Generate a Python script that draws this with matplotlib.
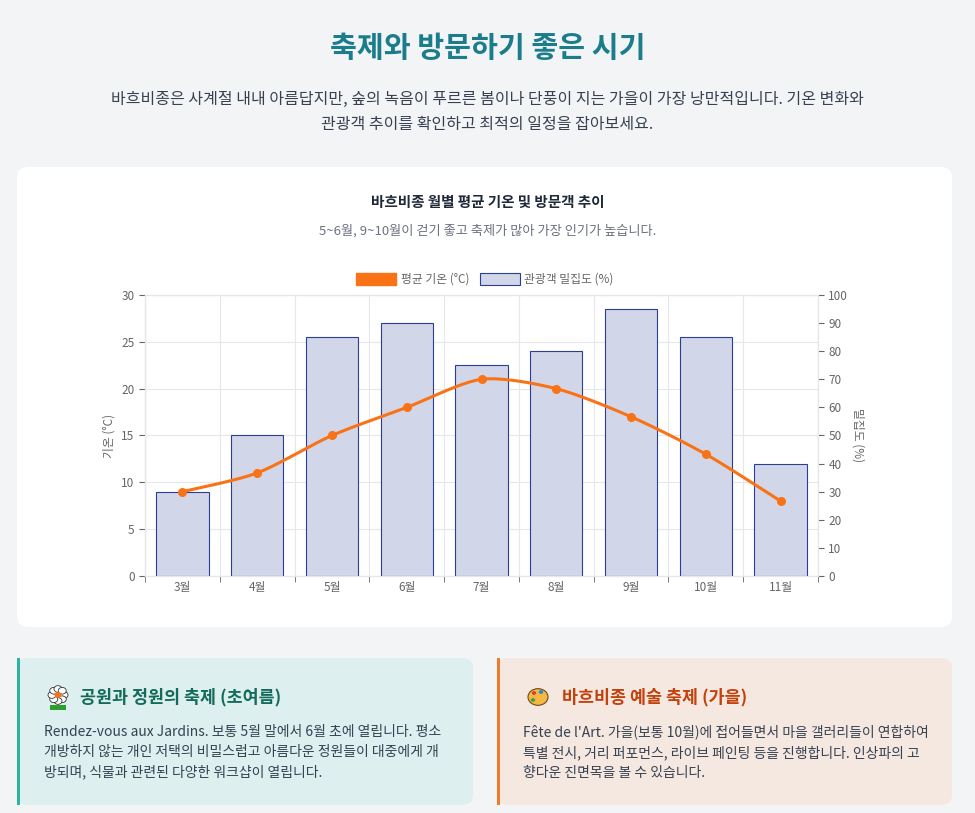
import matplotlib.pyplot as plt
import numpy as np
from matplotlib.patches import FancyBboxPatch, Rectangle

plt.rcParams['font.family'] = ['Noto Sans CJK KR', 'DejaVu Sans']

months = ["3월", "4월", "5월", "6월", "7월", "8월", "9월", "10월", "11월"]
temps = [9, 11, 15, 18, 21, 20, 17, 13, 8]
crowd = [30, 50, 85, 90, 75, 80, 95, 85, 40]

W, H = 975, 813
fig = plt.figure(figsize=(9.75, 8.13), dpi=100, facecolor='#f3f4f6')


def fx(x):
    return x / W


def fy(y):
    return 1 - y / H


def card(x0, y0, x1, y1, color, edge=None):
    p = FancyBboxPatch((fx(x0), fy(y1)), fx(x1 - x0), (y1 - y0) / H,
                       boxstyle="round,pad=0,rounding_size=0.012",
                       transform=fig.transFigure, facecolor=color,
                       edgecolor='none', zorder=-5)
    fig.patches.append(p)
    if edge:
        fig.patches.append(Rectangle((fx(x0), fy(y1)), 3 / W, (y1 - y0) / H,
                                     transform=fig.transFigure,
                                     facecolor=edge, edgecolor='none', zorder=-4))


fig.text(0.5, fy(48), "축제와 방문하기 좋은 시기", ha='center', va='center',
         fontsize=21, fontweight='bold', color='#1b7c8c')
fig.text(0.5, fy(112), "바흐비종은 사계절 내내 아름답지만, 숲의 녹음이 푸르른 봄이나 단풍이 지는 가을이 가장 낭만적입니다. 기온 변화와\n관광객 추이를 확인하고 최적의 일정을 잡아보세요.",
         ha='center', va='center', fontsize=11.5, color='#374151', linespacing=1.55)

card(17, 167, 952, 627, 'white')
fig.text(0.5, fy(202), "바흐비종 월별 평균 기온 및 방문객 추이", ha='center', va='center',
         fontsize=10.5, fontweight='bold', color='#1f2937')
fig.text(0.5, fy(231), "5~6월, 9~10월이 걷기 좋고 축제가 많아 가장 인기가 높습니다.",
         ha='center', va='center', fontsize=9.5, color='#6b7280')

ax = fig.add_axes([fx(145), fy(576), fx(673), 281 / H])
ax2 = ax.twinx()
x = np.arange(len(months))
ax2.bar(x, crowd, width=0.7, color='#d1d7e8', edgecolor='#2c3e94', linewidth=0.8,
        label='관광객 밀집도 (%)', zorder=1)

# catmull-rom smoothing through data points
px, py = [], []
xs = np.concatenate([[x[0]], x, [x[-1]]]).astype(float)
ys = np.concatenate([[temps[0]], temps, [temps[-1]]]).astype(float)
for i in range(1, len(xs) - 2):
    t = np.linspace(0, 1, 20)
    for arr, out in ((xs, px), (ys, py)):
        p0, p1, p2, p3 = arr[i - 1], arr[i], arr[i + 1], arr[i + 2]
        out.extend(p1 + 0.4 * (p2 - p0) * t
                   + (3 * (p2 - p1) - 0.8 * (p2 - p0) - 0.4 * (p3 - p1)) * t ** 2
                   + (-2 * (p2 - p1) + 0.4 * (p2 - p0) + 0.4 * (p3 - p1)) * t ** 3)

ax.set_zorder(ax2.get_zorder() - 1)
ax2.patch.set_visible(False)
ax.patch.set_visible(False)
ax2.plot(np.array(px), np.array(py) * 100 / 30, color='#f97316', lw=2.2, zorder=3)
ax2.scatter(x, np.array(temps) * 100 / 30, color='#f97316', s=30, zorder=4)

ax.set_ylim(0, 30)
ax2.set_ylim(0, 100)
ax.set_xlim(-0.5, len(months) - 0.5)
ax.set_yticks(range(0, 31, 5))
ax2.set_yticks(range(0, 101, 10))
ax.set_xticks(x, months)
ax.set_xticks(np.arange(-0.5, len(months)), minor=True)
ax.grid(True, which='minor', axis='x', color='#e5e7eb', lw=0.8)
ax.grid(True, axis='y', color='#e5e7eb', lw=0.8)
for a in (ax, ax2):
    a.tick_params(labelsize=8.5, colors='#666666', length=4, which='both')
    for s in a.spines.values():
        s.set_color('#e5e7eb')
ax.tick_params(axis='x', which='major', length=0)
ax.set_ylabel("기온 (°C)", fontsize=8.5, color='#666666')
ax2.set_ylabel("밀집도 (%)", fontsize=8.5, color='#666666', rotation=270, labelpad=12)

# legend
fig.patches.append(Rectangle((fx(356), fy(285)), 40 / W, 12 / H, transform=fig.transFigure,
                             facecolor='#f97316', edgecolor='#f97316'))
fig.text(fx(401), fy(279), "평균 기온 (°C)", fontsize=8.5, color='#666666', va='center')
fig.patches.append(Rectangle((fx(480), fy(285)), 40 / W, 12 / H, transform=fig.transFigure,
                             facecolor='#d1d7e8', edgecolor='#2c3e94', lw=0.8))
fig.text(fx(524), fy(279), "관광객 밀집도 (%)", fontsize=8.5, color='#666666', va='center')

# bottom cards
card(17, 658, 473, 805, '#ddefee', '#2bb5a0')
card(497, 658, 952, 805, '#f5e8e0', '#f07a2a')

# simple flower icon
for ang in np.linspace(0, 2 * np.pi, 8, endpoint=False):
    fig.add_artist(plt.Circle((fx(58 + 6 * np.cos(ang)), fy(695 + 6 * np.sin(ang))),
                              4 / W, transform=fig.transFigure, facecolor='white',
                              edgecolor='#333333', lw=0.6))
fig.add_artist(plt.Circle((fx(58), fy(695)), 3.5 / W, transform=fig.transFigure,
                          facecolor='#f97316', edgecolor='none'))
fig.patches.append(Rectangle((fx(50), fy(710)), 16 / W, 5 / H, transform=fig.transFigure,
                             facecolor='#2e9e2e', edgecolor='none'))
# palette icon
fig.add_artist(plt.Circle((fx(538), fy(697)), 10 / W, transform=fig.transFigure,
                          facecolor='#f4b942', edgecolor='#6b4a1a', lw=0.8))
for (dx, dy, c) in ((-4, -4, '#e53935'), (3, -5, '#1e88e5'), (-5, 3, '#43a047')):
    fig.add_artist(plt.Circle((fx(538 + dx), fy(697 + dy)), 2.2 / W, transform=fig.transFigure,
                              facecolor=c, edgecolor='none'))

fig.text(fx(80), fy(697), "공원과 정원의 축제 (초여름)", fontsize=12.5, fontweight='bold',
         color='#136b5c', va='center')
fig.text(fx(44), fy(752), "Rendez-vous aux Jardins. 보통 5월 말에서 6월 초에 열립니다. 평소\n개방하지 않는 개인 저택의 비밀스럽고 아름다운 정원들이 대중에게 개\n방되며, 식물과 관련된 다양한 워크샵이 열립니다.",
         fontsize=10, color='#374151', va='center', linespacing=1.5)
fig.text(fx(562), fy(697), "바흐비종 예술 축제 (가을)", fontsize=12.5, fontweight='bold',
         color='#c2410c', va='center')
fig.text(fx(523), fy(752), "Fête de l'Art. 가을(보통 10월)에 접어들면서 마을 갤러리들이 연합하여\n특별 전시, 거리 퍼포먼스, 라이브 페인팅 등을 진행합니다. 인상파의 고\n향다운 진면목을 볼 수 있습니다.",
         fontsize=10, color='#374151', va='center', linespacing=1.5)

fig.savefig('out.png', dpi=100, facecolor=fig.get_facecolor())
